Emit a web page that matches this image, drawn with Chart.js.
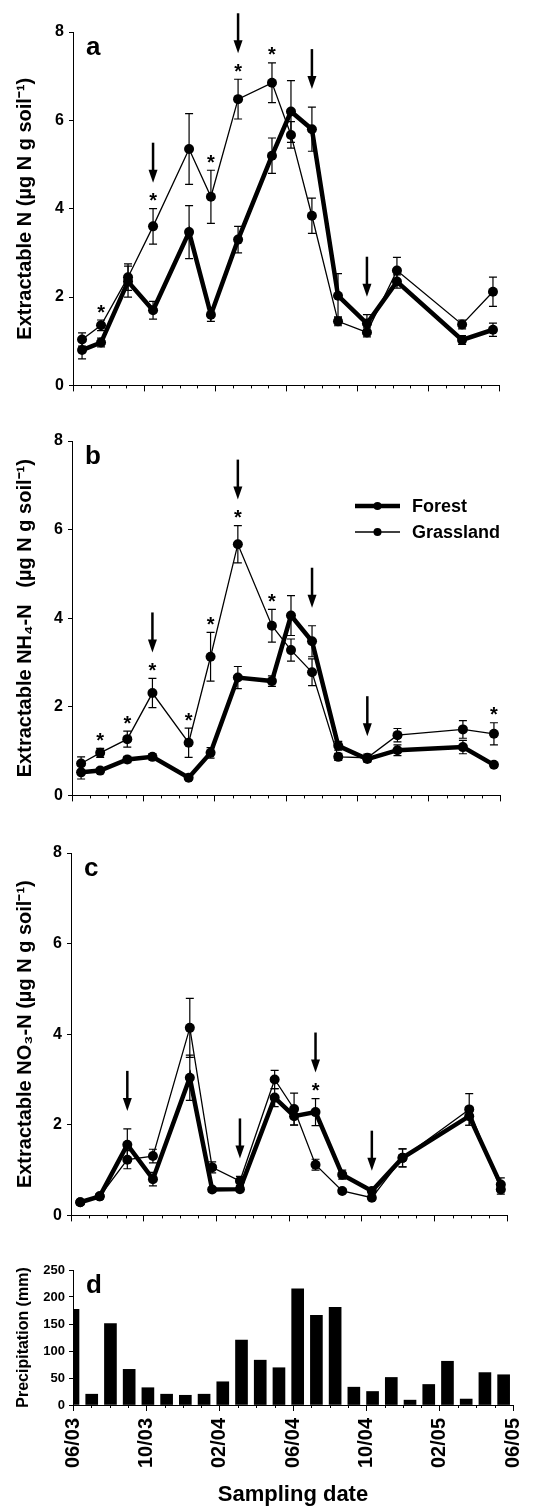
<!DOCTYPE html>
<html>
<head>
<meta charset="utf-8">
<title>Extractable N</title>
<script src="https://cdn.jsdelivr.net/npm/chart.js@4.4.1/dist/chart.umd.min.js"></script>
<style>
  html, body { margin: 0; padding: 0; background: #fff; }
  #page { position: relative; width: 553px; height: 1511px; overflow: hidden; }
  canvas { position: absolute; left: 0; }
</style>
</head>
<body>
<div id="page">
  <canvas id="chartA" width="553" height="400" style="top:0px"></canvas>
  <canvas id="chartB" width="553" height="400" style="top:410px"></canvas>
  <canvas id="chartC" width="553" height="410" style="top:820px"></canvas>
  <canvas id="chartD" width="553" height="271" style="top:1240px"></canvas>
</div>
<script>
// sampling dates, in months after 1 June 2003
const sampleMonths = [0.51, 1.58, 3.10, 4.51, 6.54, 7.77, 9.30, 11.21, 12.28, 13.46, 14.93, 16.56, 18.25, 21.92, 23.66];
const dateTicks    = ['06/03', '10/03', '02/04', '06/04', '10/04', '02/05', '06/05'];

// a: extractable N
const forestN      = [0.80, 0.97, 2.35, 1.70, 3.47, 1.60, 3.30, 5.20, 6.20, 5.80, 2.03, 1.40, 2.35, 1.03, 1.26];
const forestNErr   = [0.20, 0.10, 0.35, 0.20, 0.60, 0.15, 0.30, 0.40, 0.70, 0.50, 0.50, 0.20, 0.15, 0.10, 0.15];
const grassN       = [1.04, 1.36, 2.45, 3.60, 5.35, 4.27, 6.48, 6.85, 5.67, 3.84, 1.45, 1.20, 2.60, 1.38, 2.12];
const grassNErr    = [0.15, 0.12, 0.30, 0.40, 0.80, 0.60, 0.45, 0.45, 0.30, 0.40, 0.10, 0.10, 0.30, 0.10, 0.33];
const starsA       = [1, 3, 5, 6, 7];
const arrowsA      = [3, 6, 9, 11];

// b: extractable NH4-N
const forestNH4    = [0.52, 0.56, 0.81, 0.87, 0.40, 0.96, 2.66, 2.58, 4.06, 3.48, 1.12, 0.82, 1.02, 1.09, 0.69];
const forestNH4Err = [0.15, 0.05, 0.07, 0.07, 0.05, 0.12, 0.25, 0.12, 0.45, 0.35, 0.10, 0.07, 0.12, 0.15, 0.05];
const grassNH4     = [0.72, 0.96, 1.27, 2.31, 1.19, 3.13, 5.67, 3.83, 3.28, 2.78, 0.87, 0.85, 1.36, 1.49, 1.39];
const grassNH4Err  = [0.15, 0.10, 0.18, 0.33, 0.33, 0.55, 0.42, 0.37, 0.25, 0.30, 0.08, 0.08, 0.15, 0.20, 0.25];
const starsB       = [1, 2, 3, 4, 5, 6, 7, 14];
const arrowsB      = [3, 6, 9, 11];

// c: extractable NO3-N
const forestNO3    = [0.29, 0.42, 1.56, 0.80, 3.04, 0.57, 0.58, 2.60, 2.19, 2.28, 0.90, 0.54, 1.27, 2.19, 0.68];
const forestNO3Err = [0.05, 0.05, 0.35, 0.15, 0.50, 0.05, 0.05, 0.20, 0.20, 0.30, 0.10, 0.05, 0.20, 0.20, 0.15];
const grassNO3     = [0.29, 0.42, 1.23, 1.31, 4.14, 1.06, 0.76, 3.00, 2.35, 1.12, 0.54, 0.39, 1.27, 2.34, 0.57];
const grassNO3Err  = [0.05, 0.05, 0.20, 0.15, 0.65, 0.12, 0.10, 0.20, 0.35, 0.12, 0.05, 0.05, 0.20, 0.35, 0.10];
const starsC       = [9];
const arrowsC      = [2, 6, 9, 11];

// d: monthly precipitation (mm), June 2003 .. May 2005
const precipMonths = ['Jun 03', 'Jul 03', 'Aug 03', 'Sep 03', 'Oct 03', 'Nov 03', 'Dec 03', 'Jan 04',
                      'Feb 04', 'Mar 04', 'Apr 04', 'May 04', 'Jun 04', 'Jul 04', 'Aug 04', 'Sep 04',
                      'Oct 04', 'Nov 04', 'Dec 04', 'Jan 05', 'Feb 05', 'Mar 05', 'Apr 05', 'May 05'];
const precip       = [177, 20, 151, 66, 32, 20, 18, 20, 43, 120, 83, 69, 215, 166, 181, 33, 25, 51, 9, 38, 81, 11, 60, 56];

const FONT = "Arial, 'Liberation Sans', Helvetica, sans-serif";
Chart.defaults.font.family = FONT;
Chart.defaults.font.weight = 'bold';
Chart.defaults.color = '#000';

// short monthly ticks between the labelled ones
const minorTicks = {
  id: 'minorTicks',
  afterDraw(chart) {
    const { ctx, chartArea } = chart;
    const x = chart.scales.x;
    ctx.save();
    ctx.strokeStyle = '#000';
    ctx.lineWidth = 1;
    for (let m = 1; m < 24; m++) {
      if (m % 4 === 0) continue;
      const px = Math.round(x.getPixelForValue(m)) + 0.5;
      ctx.beginPath();
      ctx.moveTo(px, chartArea.bottom);
      ctx.lineTo(px, chartArea.bottom + 3);
      ctx.stroke();
    }
    ctx.restore();
  }
};

const errorBars = {
  id: 'errorBars',
  beforeDatasetsDraw(chart) {
    const { ctx, scales: { x, y } } = chart;
    ctx.save();
    ctx.strokeStyle = '#000';
    ctx.lineWidth = 1.2;
    chart.data.datasets.forEach(ds => {
      if (!ds.errors) return;
      ds.data.forEach((p, i) => {
        const px  = x.getPixelForValue(p.x);
        const top = y.getPixelForValue(p.y + ds.errors[i]);
        const bot = y.getPixelForValue(p.y - ds.errors[i]);
        ctx.beginPath();
        ctx.moveTo(px, top);     ctx.lineTo(px, bot);
        ctx.moveTo(px - 4, top); ctx.lineTo(px + 4, top);
        ctx.moveTo(px - 4, bot); ctx.lineTo(px + 4, bot);
        ctx.stroke();
      });
    });
    ctx.restore();
  }
};

// significance asterisks and the downward arrows
const marks = {
  id: 'marks',
  afterDatasetsDraw(chart, args, opts) {
    const { ctx, scales: { x, y } } = chart;
    const sets = chart.data.datasets;
    const topOf = i => Math.min(...sets.map(ds => y.getPixelForValue(ds.data[i].y + ds.errors[i])));
    const xOf   = i => x.getPixelForValue(sets[0].data[i].x);
    const stars = opts.stars || [];
    ctx.save();
    ctx.fillStyle = '#000';
    ctx.strokeStyle = '#000';
    ctx.font = 'bold 20px ' + FONT;
    ctx.textAlign = 'center';
    ctx.textBaseline = 'alphabetic';
    stars.forEach(i => ctx.fillText('*', xOf(i), topOf(i) - 13 + 11.5));
    (opts.arrows || []).forEach(i => {
      const px  = xOf(i);
      const tip = topOf(i) - (stars.includes(i) ? 26 : 18);
      ctx.lineWidth = 2.5;
      ctx.beginPath();
      ctx.moveTo(px, tip - 40);
      ctx.lineTo(px, tip - 10);
      ctx.stroke();
      ctx.beginPath();
      ctx.moveTo(px - 4.5, tip - 13);
      ctx.lineTo(px + 4.5, tip - 13);
      ctx.lineTo(px, tip);
      ctx.closePath();
      ctx.fill();
    });
    ctx.restore();
  }
};

const panelLetter = {
  id: 'panelLetter',
  afterDraw(chart, args, opts) {
    if (!opts.text) return;
    const { ctx, chartArea } = chart;
    ctx.save();
    ctx.fillStyle = '#000';
    ctx.font = 'bold 26px ' + FONT;
    ctx.textAlign = 'left';
    ctx.textBaseline = 'alphabetic';
    ctx.fillText(opts.text, chartArea.left + 13, chartArea.top + 23);
    ctx.restore();
  }
};

const seriesLegend = {
  id: 'seriesLegend',
  afterDraw(chart, args, opts) {
    if (!opts.show) return;
    const { ctx } = chart;
    ctx.save();
    ctx.fillStyle = '#000';
    ctx.strokeStyle = '#000';
    ctx.font = 'bold 18px ' + FONT;
    ctx.textBaseline = 'middle';
    chart.data.datasets.forEach((ds, k) => {
      const yy = 96 + k * 26;
      ctx.lineWidth = ds.borderWidth;
      ctx.beginPath();
      ctx.moveTo(355, yy);
      ctx.lineTo(400, yy);
      ctx.stroke();
      ctx.beginPath();
      ctx.arc(377.5, yy, 4, 0, Math.PI * 2);
      ctx.fill();
      ctx.fillText(ds.label, 412, yy + 1);
    });
    ctx.restore();
  }
};

function lineSeries(label, values, errors, width) {
  return {
    label,
    data: sampleMonths.map((m, i) => ({ x: m, y: values[i] })),
    errors,
    borderColor: '#000',
    backgroundColor: '#000',
    borderWidth: width,
    pointRadius: 5,
    pointBorderWidth: 0,
    pointBackgroundColor: '#000',
    tension: 0
  };
}

function nitrogenPanel(id, forest, forestErr, grass, grassErr, yTitle, letter, stars, arrows, box) {
  return new Chart(document.getElementById(id), {
    type: 'line',
    data: {
      datasets: [
        lineSeries('Forest', forest, forestErr, 4.5),
        lineSeries('Grassland', grass, grassErr, 1.3)
      ]
    },
    options: {
      responsive: false,
      animation: false,
      events: [],
      layout: { padding: { top: box.top, right: box.right, bottom: box.bottom, left: 0 } },
      scales: {
        x: {
          type: 'linear', min: 0, max: 24, offset: false,
          ticks: { stepSize: 4, display: false, autoSkip: false },
          grid: { drawOnChartArea: false, tickLength: 6, tickColor: '#000', offset: false },
          border: { display: true, color: '#000', width: 1 },
          afterFit: s => { s.height = 6; }
        },
        y: {
          min: 0, max: 8,
          ticks: { stepSize: 2, padding: 5, font: { size: 16, weight: 'bold' } },
          grid: { drawOnChartArea: false, tickLength: 4, tickColor: '#000' },
          border: { display: true, color: '#000', width: 1 },
          title: { display: true, text: yTitle, font: { size: 20, weight: 'bold' }, padding: { top: 13, bottom: 0 } },
          afterFit: s => { s.width = box.left; }
        }
      },
      plugins: {
        legend: { display: false },
        tooltip: { enabled: false },
        marks: { stars, arrows },
        panelLetter: { text: letter },
        seriesLegend: { show: id === 'chartB' }
      }
    },
    plugins: [minorTicks, errorBars, marks, panelLetter, seriesLegend]
  });
}

nitrogenPanel('chartA', forestN, forestNErr, grassN, grassNErr,
  'Extractable N (µg N g soil⁻¹)', 'a', starsA, arrowsA,
  { top: 32, right: 54, bottom: 8, left: 73 });
nitrogenPanel('chartB', forestNH4, forestNH4Err, grassNH4, grassNH4Err,
  'Extractable NH₄-N   (µg N g soil⁻¹)', 'b', starsB, arrowsB,
  { top: 31, right: 53, bottom: 6, left: 72 });
nitrogenPanel('chartC', forestNO3, forestNO3Err, grassNO3, grassNO3Err,
  'Extractable NO₃-N (µg N g soil⁻¹)', 'c', starsC, arrowsC,
  { top: 33, right: 46, bottom: 8, left: 71 });

new Chart(document.getElementById('chartD'), {
  type: 'bar',
  data: {
    datasets: [{
      label: 'Precipitation',
      data: precipMonths.map((m, i) => ({ x: i, y: precip[i] })),
      backgroundColor: '#000',
      barThickness: 12,
      clip: 0,
      xAxisID: 'xb'
    }]
  },
  options: {
    responsive: false,
    animation: false,
    events: [],
    layout: { padding: { top: 30, right: 40, bottom: 0, left: 0 } },
    scales: {
      x: {
        type: 'linear', min: 0, max: 24, offset: false,
        ticks: {
          stepSize: 4, autoSkip: false, maxRotation: 90, minRotation: 90, padding: 7,
          font: { size: 20, weight: 'bold' },
          callback: v => dateTicks[v / 4]
        },
        grid: { drawOnChartArea: false, tickLength: 6, tickColor: '#000', offset: false },
        border: { display: true, color: '#000', width: 1 },
        title: { display: true, text: 'Sampling date', font: { size: 22, weight: 'bold' }, padding: { top: 0, bottom: 3 } },
        afterFit: s => { s.height = 106; }
      },
      xb: { type: 'linear', display: false, min: 0, max: 23.5, offset: false },
      y: {
        min: 0, max: 250,
        ticks: { stepSize: 50, padding: 4, font: { size: 13, weight: 'bold' } },
        grid: { drawOnChartArea: false, tickLength: 4, tickColor: '#000' },
        border: { display: true, color: '#000', width: 1 },
        title: { display: true, text: 'Precipitation (mm)', font: { size: 16, weight: 'bold' }, padding: { top: 14, bottom: 0 } },
        afterFit: s => { s.width = 73; }
      }
    },
    plugins: {
      legend: { display: false },
      tooltip: { enabled: false },
      panelLetter: { text: 'd' }
    }
  },
  plugins: [minorTicks, panelLetter]
});
</script>
</body>
</html>
